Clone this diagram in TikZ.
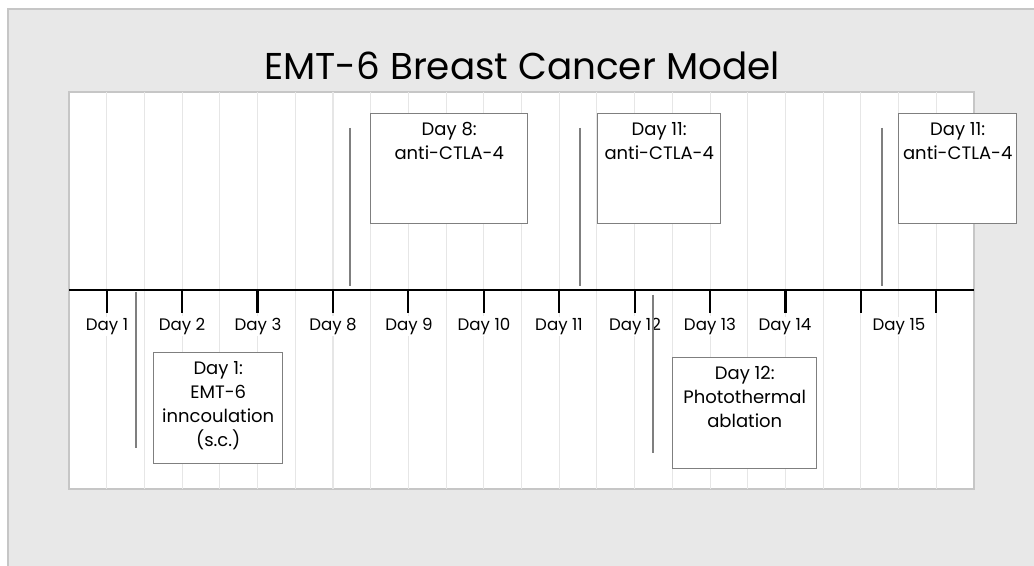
\documentclass[tikz,border=0pt]{standalone}
\usepackage{fontspec}
\setmainfont{Poppins}
\usepackage{tikz}
\usetikzlibrary{positioning}
\definecolor{panelgray}{HTML}{E8E8E8}
\definecolor{framegray}{HTML}{C6C6C6}
\definecolor{gridgray}{HTML}{E6E6E6}
\definecolor{boxgray}{HTML}{7F7F7F}
\newcommand{\pxu}{0.75pt}
\tikzset{
  daylabel/.style={font=\fontsize{12.5}{14}\selectfont, fill=white, inner sep=1pt, anchor=base},
  eventbox/.style={draw=boxgray, line width=1.1pt, fill=white, inner sep=0pt, anchor=north west},
  eventtext/.style={font=\fontsize{13.5}{18}\selectfont, align=center, anchor=north, inner sep=0pt},
  marker/.style={draw=boxgray, line width=0.9pt},
  daytick/.style={line width=1.6pt},
}

\begin{document}
\begin{tikzpicture}[x=0.75pt, y=-0.75pt]
        \useasboundingbox (0,0) rectangle (1034,566);
        % panels
        \draw[framegray, line width=1pt, fill=panelgray] (8,9) rectangle (1045,580);
        \draw[framegray, line width=1pt, fill=white] (69,92) rectangle (974,489);
        \foreach \k in {1,...,23}
            \draw[gridgray, line width=0.8pt] (69+\k*37.71,92) -- (69+\k*37.71,489);
        % title
        \node[font=\fontsize{28}{34}\selectfont, anchor=base] (title) at (522,80) {EMT-6 Breast Cancer Model};
        % boxes
        \node[eventbox, minimum width=157*\pxu, minimum height=110*\pxu] (b8) at (370,113) {};
        \node[eventbox, minimum width=123*\pxu, minimum height=110*\pxu] (b11) at (597,113) {};
        \node[eventbox, minimum width=118*\pxu, minimum height=110*\pxu] (b11r) at (898,113) {};
        \node[eventbox, minimum width=129*\pxu, minimum height=111*\pxu] (b1) at (153,352) {};
        \node[eventbox, minimum width=144*\pxu, minimum height=111*\pxu] (b12) at (672,357) {};
        \node[eventtext, below=7pt of b8.north] (t8) {Day 8:\\anti-CTLA-4};
        \node[eventtext, below=7pt of b11.north] (t11) {Day 11:\\anti-CTLA-4};
        \node[eventtext, below=7pt of b11r.north] (t11r) {Day 11:\\anti-CTLA-4};
        \node[eventtext, below=7pt of b1.north] (t1) {Day 1:\\EMT-6\\inncoulation\\(s.c.)};
        \node[eventtext, below=7pt of b12.north] (t12) {Day 12:\\Photothermal\\ablation};
        % axis
        \coordinate (axl) at (69,290);
        \coordinate (axr) at (974,290);
        \draw[line width=1.6pt] (axl) -- (axr);
        \foreach \k in {1,3,...,23}
            \draw[daytick] (69+\k*37.71,290) -- (69+\k*37.71,313);
        \foreach \x/\d in {107/1, 182/2, 258/3, 333/8, 409/9, 484/10, 559/11, 635/12, 710/13, 785/14, 899/15}
            \node[daylabel] (d\d) at (\x,330) {Day \d};
        % markers
        \coordinate (m8t) at (350,128);
        \coordinate (m8b) at (350,286);
        \coordinate (m11t) at (580,128);
        \coordinate (m11b) at (580,286);
        \coordinate (m15t) at (882,128);
        \coordinate (m15b) at (882,286);
        \coordinate (m1t) at (136,292);
        \coordinate (m1b) at (136,448);
        \coordinate (m12t) at (653,295);
        \coordinate (m12b) at (653,453);
        \draw[marker] (m8t) -- (m8b);
        \draw[marker] (m11t) -- (m11b);
        \draw[marker] (m15t) -- (m15b);
        \draw[marker] (m1t) -- (m1b);
        \draw[marker] (m12t) -- (m12b);
\end{tikzpicture}
\end{document}
